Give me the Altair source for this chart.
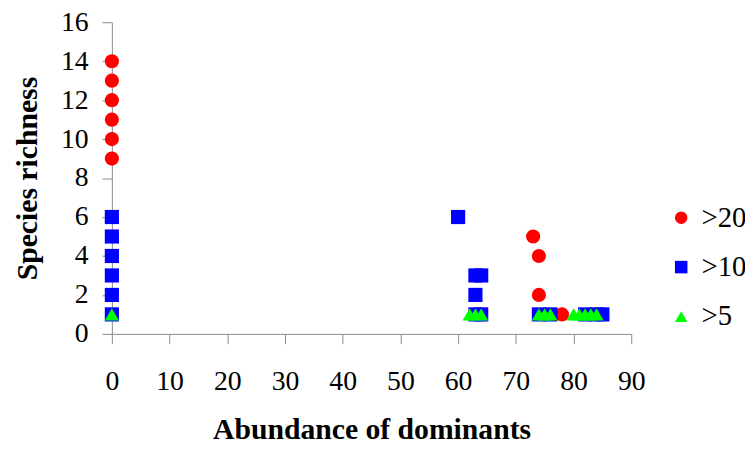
import altair as alt
import pandas as pd

# Series: >20 (red circles), >10 (blue squares), >5 (green triangles)
circle_x = [0, 0, 0, 0, 0, 0, 73, 74, 74, 78]
circle_y = [9, 10, 11, 12, 13, 14, 5, 4, 2, 1]

square_x = [0, 0, 0, 0, 0, 0, 60, 63, 64, 63, 63, 64, 74, 76, 82, 84, 85]
square_y = [1, 2, 3, 4, 5, 6, 6, 3, 3, 2, 1, 1, 1, 1, 1, 1, 1]

triangle_x = [0, 62, 63, 64, 74, 75, 76, 80, 81, 82, 83, 84]
triangle_y = [1, 1, 1, 1, 1, 1, 1, 1, 1, 1, 1, 1]

series_names = [">20", ">10", ">5"]
series_colors = ["#FF0000", "#0000FF", "#00FF00"]
series_shapes = ["circle", "square", "triangle-up"]

x_ticks = [0, 10, 20, 30, 40, 50, 60, 70, 80, 90]
y_ticks = [0, 2, 4, 6, 8, 10, 12, 14, 16]

rows = []
for xs, ys, name in [(circle_x, circle_y, ">20"), (square_x, square_y, ">10"),
                     (triangle_x, triangle_y, ">5")]:
    for a, b in zip(xs, ys):
        rows.append({"x": a, "y": b, "series": name})
df = pd.DataFrame(rows)
df["order"] = range(len(df))

FONT = "Liberation Serif"

chart = alt.Chart(df).mark_point(filled=True, opacity=1, size=205).encode(
    x=alt.X("x:Q", scale=alt.Scale(domain=[0, 90], nice=False),
            axis=alt.Axis(values=x_ticks, title="Abundance of dominants",
                          labelPadding=24, titlePadding=20, labelFlush=False,
                          labelFont=FONT)),
    y=alt.Y("y:Q", scale=alt.Scale(domain=[0, 16], nice=False),
            axis=alt.Axis(values=y_ticks, title="Species richness",
                          labelPadding=14, titlePadding=18, labelFlush=False,
                          labelFont=FONT)),
    color=alt.Color("series:N", scale=alt.Scale(domain=series_names, range=series_colors),
                    legend=alt.Legend(title=None, orient="none", legendX=561, legendY=183,
                                      labelFontSize=29, labelFont=FONT, labelColor="black",
                                      symbolSize=160, rowPadding=20, labelOffset=6,
                                      padding=0, symbolStrokeWidth=0)),
    shape=alt.Shape("series:N", scale=alt.Scale(domain=series_names, range=series_shapes),
                    legend=None),
    order=alt.Order("order:Q"),
).properties(
    width=525, height=315, autosize="none", background="white",
    padding={"left": 105, "top": 12, "right": 115, "bottom": 118},
).configure(font=FONT).configure_view(stroke=None).configure_axis(
    grid=False, domainColor="#8c8c8c", tickColor="#8c8c8c", tickSize=10,
    labelFont=FONT, labelFontSize=28, labelColor="black",
    titleFont=FONT, titleFontSize=30, titleFontWeight="bold", titleColor="black",
)

chart.save("out.html", embed_options={"renderer": "svg", "actions": False})
